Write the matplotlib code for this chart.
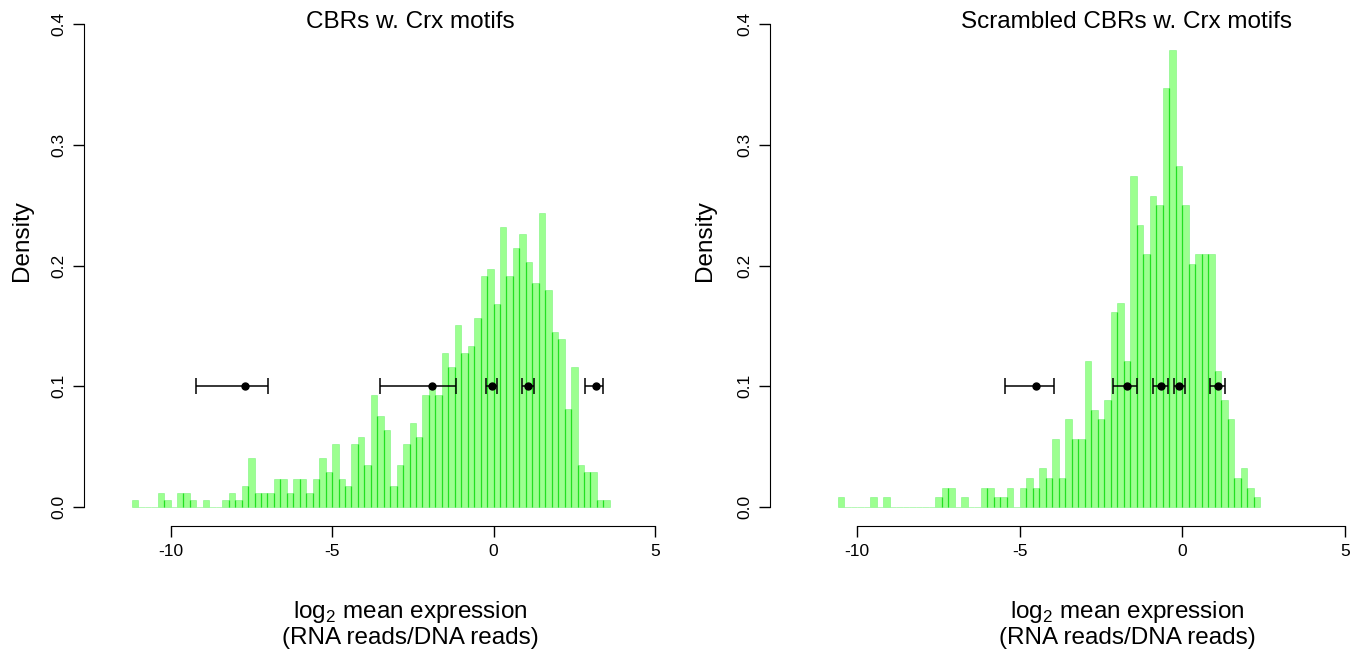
import numpy as np
import matplotlib
matplotlib.use("Agg")
import matplotlib.pyplot as plt

plt.rcParams['font.family'] = ['Liberation Sans', 'DejaVu Sans']
plt.rcParams['mathtext.fontset'] = 'custom'
plt.rcParams['mathtext.rm'] = 'Liberation Sans'

# ---- data ----
bin_width = 0.2
left_start = -11.2
left_counts = [1, 0, 0, 0, 2, 1, 0, 2, 2, 1, 0, 1, 0, 0, 1, 2, 1, 3, 7, 2,
               2, 2, 4, 4, 2, 4, 4, 2, 4, 7, 5, 9, 4, 3, 9, 10, 6, 16, 13, 11,
               3, 6, 9, 12, 10, 16, 17, 16, 22, 20, 26, 22, 23, 27, 33, 34, 29, 40, 33, 37,
               39, 35, 32, 42, 31, 25, 24, 14, 20, 6, 5, 5, 1, 1]
right_start = -10.6
right_counts = [1, 0, 0, 0, 0, 1, 0, 1, 0, 0, 0, 0, 0, 0, 0, 1, 2, 2, 0, 1,
                0, 0, 2, 2, 1, 1, 2, 0, 2, 3, 2, 4, 3, 7, 3, 9, 7, 7, 15, 10,
                9, 11, 20, 21, 15, 34, 29, 26, 32, 31, 43, 47, 35, 31, 25, 26, 26, 26, 14, 11,
                9, 3, 4, 2, 1]

left_pts = [-7.70, -1.90, -0.04, 1.07, 3.16]
left_lo = [-9.20, -3.53, -0.22, 0.87, 2.84]
left_hi = [-6.98, -1.17, 0.12, 1.25, 3.40]
right_pts = [-4.51, -1.70, -0.65, -0.09, 1.09]
right_lo = [-5.44, -2.14, -0.89, -0.25, 0.86]
right_hi = [-3.95, -1.39, -0.43, 0.07, 1.31]

titles = ["CBRs w. Crx motifs", "Scrambled CBRs w. Crx motifs"]
x_ticks = [-10, -5, 0, 5]
y_ticks = [0.0, 0.1, 0.2, 0.3, 0.4]
y_ticklabels = ["0.0", "0.1", "0.2", "0.3", "0.4"]

fig = plt.figure(figsize=(13.68, 6.60), dpi=100)

panels = [
    (left_start, left_counts, left_pts, left_lo, left_hi, [0.0614, 0.2026, 0.4335, 0.790], 0.2997),
    (right_start, right_counts, right_pts, right_lo, right_hi, [0.5629, 0.2026, 0.4364, 0.790], 0.8238),
]

fill = '#9CFF90'
for i, (start, counts, pts, lo, hi, rect, tx) in enumerate(panels):
    ax = fig.add_axes(rect)
    counts = np.array(counts, dtype=float)
    n = counts.sum()
    dens = counts / (n * bin_width)
    edges = start + bin_width * np.arange(len(counts) + 1)
    ax.bar(edges[:-1], dens, width=bin_width, align='edge',
           color=fill, edgecolor=(0.45, 0.95, 0.45, 0.6), linewidth=0.6)
    # darker separators where neighbouring bars touch
    inner = edges[1:-1]
    shared = np.minimum(dens[:-1], dens[1:])
    ax.vlines(inner, 0, shared, colors='#22E022', linewidth=0.9)
    pts = np.array(pts); lo = np.array(lo); hi = np.array(hi)
    ax.errorbar(pts, np.full(len(pts), 0.1), xerr=[pts - lo, hi - pts], fmt='o',
                color='black', ms=5, capsize=6, elinewidth=1.1, capthick=1.1)
    ax.set_xlim(-12.68, 5.68)
    ax.set_ylim(-0.016, 0.416)
    for s in ['top', 'right']:
        ax.spines[s].set_visible(False)
    ax.spines['left'].set_bounds(0, 0.4)
    ax.spines['bottom'].set_bounds(-10, 5)
    ax.set_xticks(x_ticks)
    ax.set_xticklabels([str(t) for t in x_ticks])
    ax.set_yticks(y_ticks)
    ax.set_yticklabels(y_ticklabels, rotation=90, va='center')
    ax.tick_params(axis='both', length=8, width=1, labelsize=12.5, pad=5)
    fig.text(tx, 0.967, titles[i], ha='center', va='center', fontsize=17.5)
    fig.text(tx, 0.073, r'log$_\mathregular{2}$ mean expression', ha='center', va='center', fontsize=17.5)
    fig.text(tx, 0.033, '(RNA reads/DNA reads)', ha='center', va='center', fontsize=17.5)
    ylx = 0.016 if i == 0 else 0.5155
    fig.text(ylx, 0.636, 'Density', ha='center', va='center', rotation=90, fontsize=17.5)

fig.savefig('out.png', dpi=100)
